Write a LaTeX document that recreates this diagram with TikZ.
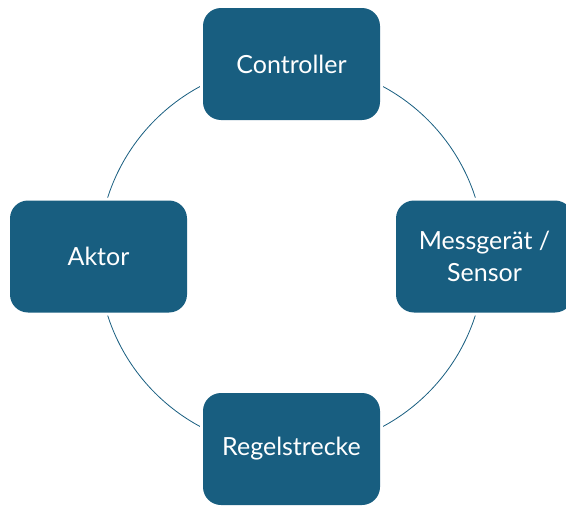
\documentclass[tikz,border=0pt]{standalone}
\usepackage{fontspec}
\setmainfont{Lato}
\usepackage{tikz}

\definecolor{boxblue}{HTML}{185E80}

\begin{document}
\begin{tikzpicture}[
x=1pt, y=-1pt,
block/.style={rectangle, rounded corners=18pt, fill=boxblue, text=white, minimum width=177pt, minimum height=112pt, align=center, font=\fontsize{25}{32}\selectfont, preaction={draw=white, line width=6pt}},
link/.style={draw=boxblue, line width=0.8pt}
]
\useasboundingbox (0,0) rectangle (566,506);
%Ring
\coordinate (hub) at (291.5,256.5);
\draw[link] (hub) circle[radius=193pt];
%Nodes
\node[block]      (ctrl)    at (291.5,64)       {Controller};
\node[block]      (mess)    at (484.5,256.5)    {Messgerät /\\Sensor};
\node[block]      (regel)   at (291.5,449)      {Regelstrecke};
\node[block]      (akt)     at (98.5,256.5)     {Aktor};
\end{tikzpicture}
\end{document}
